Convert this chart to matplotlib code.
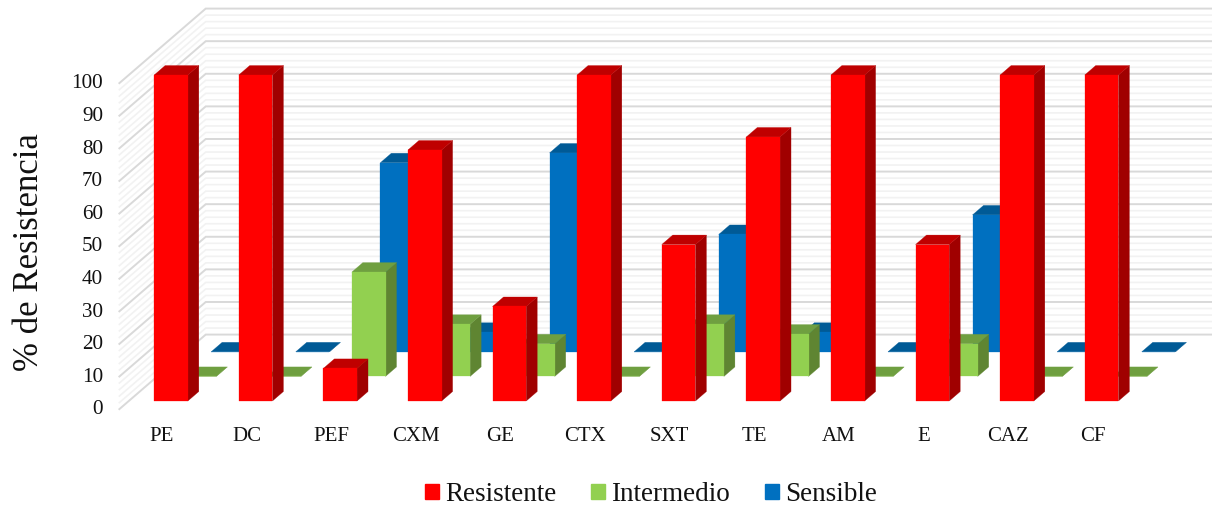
import matplotlib
matplotlib.use('Agg')
import matplotlib.pyplot as plt
from matplotlib.patches import Patch

categories = ['PE', 'DC', 'PEF', 'CXM', 'GE', 'CTX', 'SXT', 'TE', 'AM', 'E', 'CAZ', 'CF']
resistente = [100, 100, 10, 77, 29, 100, 48, 81, 100, 48, 100, 100]
intermedio = [0, 0, 32, 16, 10, 0, 16, 13, 0, 10, 0, 0]
sensible = [0, 0, 58, 6, 61, 0, 36, 6, 0, 42, 0, 0]
y_ticks = [0, 10, 20, 30, 40, 50, 60, 70, 80, 90, 100]
series_names = ['Resistente', 'Intermedio', 'Sensible']

plt.rcParams['font.family'] = ['Liberation Serif', 'DejaVu Serif']

W, H = 1212, 505
fig = plt.figure(figsize=(W / 100, H / 100), dpi=100)
ax = fig.add_axes([0, 0, 1, 1])

# one category = 84.6 px, one percent = 3.26 px
PX_X = 84.6
PX_Y = 3.26
ax.set_xlim(-171 / PX_X, (W - 171) / PX_X)
ax.set_ylim((401 - H) / PX_Y, 401 / PX_Y)
ax.axis('off')

# oblique depth: one series step back moves right and up
STEP_X = 28.5 / PX_X
STEP_Y = 24.6 / PX_Y
BAR_W = 33.7 / PX_X
BAR_D = 0.385  # depth of a bar in series steps


def project(x, v, d):
    return x + d * STEP_X, v + d * STEP_Y


def face(points, color, z):
    pts = [project(*p) for p in points]
    ax.fill([p[0] for p in pts], [p[1] for p in pts], color=color, lw=0.2, zorder=z)


def draw_bar(x, v, d, colors, z):
    front, top, side = colors
    l, r = x - BAR_W / 2, x + BAR_W / 2
    d2 = d + BAR_D
    face([(r, 0, d), (r, 0, d2), (r, v, d2), (r, v, d)], side, z)
    face([(l, v, d), (r, v, d), (r, v, d2), (l, v, d2)], top, z)
    face([(l, 0, d), (r, 0, d), (r, v, d), (l, v, d)], front, z)


# walls with gridlines, every 2 % a light one
WALL_X = -0.30 - 0.199
WALL_FRONT = -0.33
WALL_BACK = 2.7
xmax = ax.get_xlim()[1]
for v in range(0, 101, 2):
    major = v % 10 == 0
    col = '#d9d9d9' if major else '#f2f2f2'
    lw = 1.4 if major else 1.2
    z = 2 if major else 1
    x0, y0 = project(WALL_X, v, WALL_FRONT)
    x1, y1 = project(WALL_X, v, WALL_BACK)
    ax.plot([x0, x1, xmax], [y0, y1, y1], color=col, lw=lw, zorder=z, solid_joinstyle='miter')

# back to front
bar_colors = [
    ('#ff0000', '#bf0000', '#a00000'),
    ('#92d050', '#6f9f40', '#5f8532'),
    ('#0070c0', '#005a96', '#00548c'),
]
all_series = [resistente, intermedio, sensible]
for s in [2, 1, 0]:
    for i, v in enumerate(all_series[s]):
        draw_bar(i, v, s, bar_colors[s], 10 - s + i * 0.01)

# axis texts
for v in y_ticks:
    ax.text((103 - 171) / PX_X, v - 2.7, str(v), ha='right', va='center', fontsize=15.2, color='#111111')
for i, name in enumerate(categories):
    ax.text(i - 9 / PX_X, -10.8, name, ha='center', va='center', fontsize=15, color='#111111')

fig.text(29 / W, 1 - 252 / H, '% de Resistencia', rotation=90, ha='center', va='center',
         fontsize=25, color='#111111')

handles = [Patch(color=bar_colors[k][0], label=series_names[k]) for k in range(3)]
ax.legend(handles=handles, loc='center', bbox_to_anchor=(651 / W, 1 - 494.6 / H), bbox_transform=fig.transFigure,
          ncol=3, frameon=False, fontsize=19.5, handlelength=0.52, handleheight=0.52,
          handletextpad=0.22, columnspacing=1.3, borderpad=0, labelcolor='#111111')

fig.savefig('out.png', dpi=100, facecolor='white')
